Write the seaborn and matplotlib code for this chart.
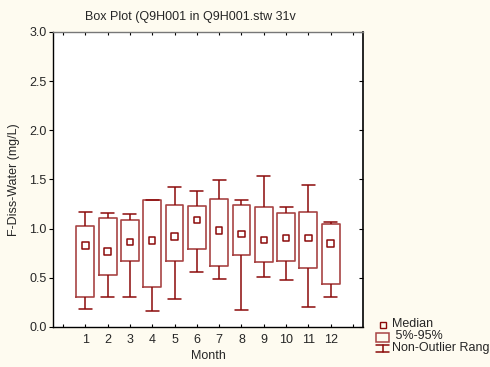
import numpy as np
import pandas as pd
import matplotlib
matplotlib.use("Agg")
import matplotlib.pyplot as plt
from matplotlib.lines import Line2D
from matplotlib.patches import Rectangle
import seaborn as sns

# Monthly summary statistics of dissolved fluoride (mg/L)
months = [1, 2, 3, 4, 5, 6, 7, 8, 9, 10, 11, 12]
range_low = [0.18, 0.30, 0.30, 0.16, 0.28, 0.555, 0.49, 0.175, 0.51, 0.48, 0.20, 0.30]
p05 = [0.30, 0.53, 0.675, 0.41, 0.675, 0.79, 0.617, 0.73, 0.66, 0.67, 0.60, 0.44]
median = [0.83, 0.77, 0.865, 0.88, 0.92, 1.09, 0.98, 0.945, 0.885, 0.905, 0.905, 0.847]
p95 = [1.03, 1.11, 1.09, 1.29, 1.245, 1.235, 1.305, 1.245, 1.225, 1.155, 1.173, 1.045]
range_high = [1.17, 1.16, 1.15, 1.295, 1.42, 1.38, 1.49, 1.29, 1.535, 1.225, 1.447, 1.065]

y_ticks = [0.0, 0.5, 1.0, 1.5, 2.0, 2.5, 3.0]
title = "Box Plot (Q9H001 in Q9H001.stw 31v"
y_label = "F-Diss-Water (mg/L)"
x_label = "Month"
legend_labels = ["Median", " 5%-95%", "Non-Outlier Range"]

# Five summary values per month: with whiskers spanning the full range,
# the box runs from the 2nd to the 4th value (5%-95%).
rows = []
for m, lo, a, md, b, hi in zip(months, range_low, p05, median, p95, range_high):
    for v in (lo, a, md, b, hi):
        rows.append({"Month": m, "value": v})
df = pd.DataFrame(rows)
med_df = pd.DataFrame({"Month": months, "median": median})

sns.set_theme(style="white")
plt.rcParams["font.family"] = ["Liberation Sans", "DejaVu Sans"]

BG = "#FEFBF0"
DARK = "#8B0A0A"
BOX = "#A84444"
FS = 9

fig = plt.figure(figsize=(4.9, 3.67), dpi=100, facecolor=BG)
ax = fig.add_axes([0.108, 0.109, 0.633, 0.804])
ax.set_facecolor("white")

sns.boxplot(
    data=df, x="Month", y="value", native_scale=True, whis=(0, 100),
    width=0.8, fill=False, linewidth=1.1, showfliers=False, ax=ax,
    boxprops=dict(color=BOX, linewidth=1.2),
    whiskerprops=dict(color=DARK, linewidth=1.1),
    capprops=dict(color=DARK, linewidth=1.1),
    medianprops=dict(visible=False),
    capwidths=0.58,
)
sns.scatterplot(
    data=med_df, x="Month", y="median", marker="s", s=22,
    facecolor="none", edgecolor=DARK, linewidth=1.1, ax=ax, zorder=5,
    legend=False,
)

ax.set_xlim(-0.45, 13.45)
ax.set_ylim(0, 3.0)
ax.set_xticks(range(0, 14))
ax.set_xticklabels([""] + [str(m) for m in months] + [""], fontsize=FS)
ax.set_yticks(y_ticks)
ax.set_yticklabels([f"{t:.1f}" for t in y_ticks], fontsize=FS)
ax.tick_params(axis="x", direction="in", length=2.5, width=0.8, color="black",
               top=True, bottom=True, pad=5)
ax.tick_params(axis="y", direction="out", length=3, width=0.8, color="black",
               left=True, right=False, pad=1.5)

for s in ax.spines.values():
    s.set_visible(True)
    s.set_color("black")
    s.set_linewidth(1.0)
ax.spines["top"].set_color("#777777")
ax.spines["right"].set_visible(False)

# inward ticks along the right edge
right = ax.secondary_yaxis("right")
right.set_yticks(y_ticks)
right.set_yticklabels([])
right.tick_params(direction="in", length=3, width=0.8, color="black")
right.spines["right"].set_color("black")
right.spines["right"].set_linewidth(1.2)

ax.set_xlabel(x_label, fontsize=FS, labelpad=3)
ax.set_ylabel(y_label, fontsize=FS, labelpad=7)
fig.text(85 / 490, 1 - 17 / 367, title, fontsize=FS, ha="left", va="center")

# Legend drawn in figure pixel coordinates
def fx(px):
    return px / 490

def fy(py):
    return 1 - py / 367

fig.add_artist(Rectangle((fx(380), fy(328)), 6 / 490, 6 / 367, fill=False,
                         edgecolor=DARK, linewidth=1.0, transform=fig.transFigure))
fig.add_artist(Rectangle((fx(376), fy(342)), 13 / 490, 9 / 367, fill=False,
                         edgecolor=BOX, linewidth=1.1, transform=fig.transFigure))
for xs, ys in [((fx(376), fx(389)), (fy(345), fy(345))),
               ((fx(382.5), fx(382.5)), (fy(345), fy(352))),
               ((fx(376), fx(389)), (fy(352), fy(352)))]:
    fig.add_artist(Line2D(xs, ys, color=DARK, linewidth=1.1, transform=fig.transFigure))
for py, lab in zip([324, 336, 348], legend_labels):
    fig.text(fx(392), fy(py), lab, fontsize=FS, ha="left", va="center")

fig.savefig("out.png", dpi=100, facecolor=BG)
